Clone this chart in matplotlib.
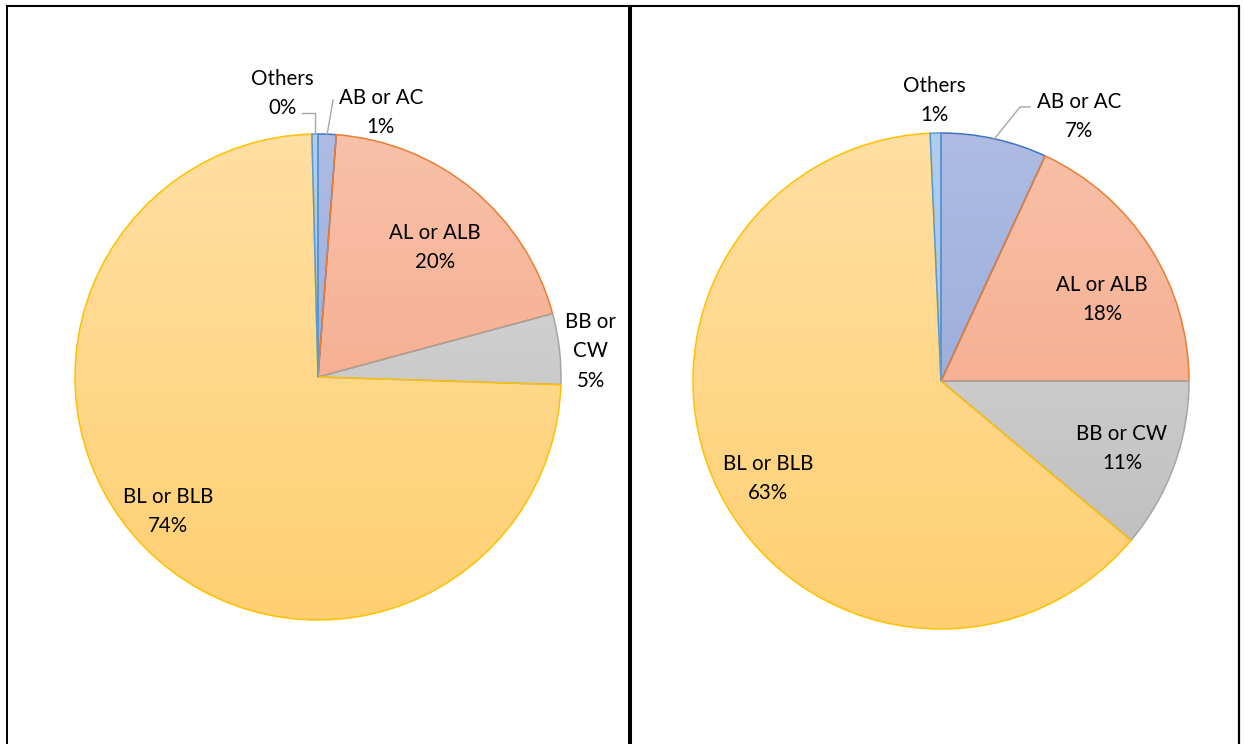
import numpy as np
import matplotlib
matplotlib.use('Agg')
import matplotlib.pyplot as plt
from matplotlib.colors import LinearSegmentedColormap
from matplotlib.lines import Line2D

plt.rcParams['font.family'] = ['Lato', 'DejaVu Sans']

# data
categories = ['AB or AC', 'AL or ALB', 'BB or CW', 'BL or BLB', 'Others']
left_values = [1.2, 19.6, 4.7, 74.1, 0.4]
right_values = [6.9, 18.1, 11.1, 63.2, 0.7]

# styles (top colour, bottom colour, edge colour)
grad_top = ['#AEBCE3', '#F8C1A9', '#DCDCDC', '#FFDFA2', '#B0CDEE']
grad_bot = ['#8DA2D7', '#F4A07E', '#BABABA', '#FFD072', '#9DC3E6']
edges = ['#4472C4', '#ED7D31', '#A5A5A5', '#FFC000', '#5B9BD5']
leader_col = '#A6A6A6'

W, H = 1244, 744
fig = plt.figure(figsize=(W / 100, H / 100), dpi=100)
fig.patch.set_facecolor('white')


def make_axes(cx, cy, r):
    ax = fig.add_axes([(cx - r) / W, (H - cy - r) / H, 2 * r / W, 2 * r / H])
    return ax


def draw_pie(ax, values, label_pos, label_text):
    wedges, _ = ax.pie(values, startangle=90, counterclock=False, radius=1,
                       wedgeprops=dict(linewidth=1.1))
    grad = np.linspace(0, 1, 256).reshape(-1, 1)
    for i, w in enumerate(wedges):
        w.set_facecolor('none')
        w.set_edgecolor(edges[i])
        w.set_zorder(3)
        cmap = LinearSegmentedColormap.from_list('g%d' % i, [grad_bot[i], grad_top[i]])
        im = ax.imshow(grad, extent=(-1, 1, -1, 1), origin='lower', cmap=cmap,
                       aspect='auto', zorder=2, interpolation='bilinear')
        im.set_clip_path(w)
    for i, cat in enumerate(categories):
        x, y = label_pos[i]
        txt = label_text.get(cat, cat) + '\n%d%%' % round(values[i])
        ax.text(x, y - 0.006, txt, ha='center', va='center', fontsize=14.8,
                linespacing=1.6, color='#000000', zorder=5)
    ax.set_xlim(-1, 1)
    ax.set_ylim(-1, 1)
    ax.set_aspect('equal')
    ax.axis('off')
    return wedges


def mid_point(values, idx):
    cum = sum(values[:idx]) + values[idx] / 2.0
    ang = np.deg2rad(cum / sum(values) * 360.0)
    return np.sin(ang), np.cos(ang)


# left panel
axL = make_axes(318, 377, 243)
left_pos = [(0.259, 1.095), (0.481, 0.539), (1.123, 0.111), (-0.617, -0.547), (-0.148, 1.173)]
draw_pie(axL, left_values, left_pos, {'BB or CW': 'BB or\nCW'})
px, py = mid_point(left_values, 4)
axL.plot([-0.066, px, px], [1.086, 1.086, py], color=leader_col, lw=1.0,
         clip_on=False, zorder=4)
px, py = mid_point(left_values, 0)
axL.plot([px, 0.062], [py, 1.140], color=leader_col, lw=1.0, clip_on=False, zorder=4)

# right panel
axR = make_axes(941, 381, 248)
right_pos = [(0.556, 1.073), (0.649, 0.335), (0.730, -0.266), (-0.698, -0.387), (-0.028, 1.137)]
draw_pie(axR, right_values, right_pos, {})
px, py = mid_point(right_values, 0)
axR.plot([px, 0.319, 0.359], [py, 1.105, 1.105], color=leader_col, lw=1.0,
         clip_on=False, zorder=4)

# table borders
def hline(y, x0, x1, lw):
    fig.add_artist(Line2D([x0 / W, x1 / W], [1 - y / H, 1 - y / H], color='black',
                          lw=lw, transform=fig.transFigure, solid_capstyle='butt'))


def vline(x, y0, y1, lw):
    fig.add_artist(Line2D([x / W, x / W], [1 - y0 / H, 1 - y1 / H], color='black',
                          lw=lw, transform=fig.transFigure, solid_capstyle='butt'))


hline(5.7, 6, 1240, 1.5)
vline(7, 5, 744, 1.4)
vline(630, 5, 744, 2.9)
vline(1239, 5, 744, 1.6)

fig.savefig('out.png', dpi=100, facecolor='white')
